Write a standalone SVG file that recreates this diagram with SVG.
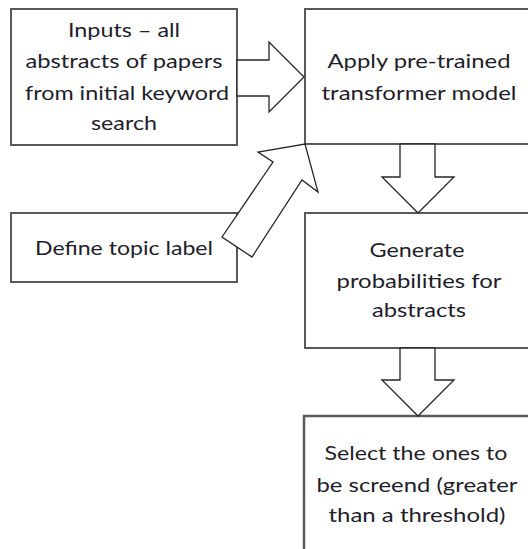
<svg xmlns="http://www.w3.org/2000/svg" width="528" height="549" viewBox="0 0 528 549">
<style>
.box{fill:#fff;stroke:#595959;stroke-width:2}
.arr{fill:#fff;stroke:#262626;stroke-width:1.3;stroke-linejoin:miter}
text{font-family:Lato,"Open Sans","Liberation Sans",sans-serif;font-size:19px;fill:#1e1e2a;text-anchor:middle}
</style>
<rect width="528" height="549" fill="#fff"/>
<g id="inputs">
<rect class="box" x="11" y="9" width="226" height="136"/>
<text x="124" y="37" textLength="112" lengthAdjust="spacingAndGlyphs">Inputs – all</text>
<text x="124" y="68" textLength="197" lengthAdjust="spacingAndGlyphs">abstracts of papers</text>
<text x="127" y="100" textLength="204" lengthAdjust="spacingAndGlyphs">from initial keyword</text>
<text x="124" y="130" textLength="66" lengthAdjust="spacingAndGlyphs">search</text>
</g>
<g id="apply">
<rect class="box" x="305" y="9" width="240" height="135"/>
<text x="419" y="68" textLength="183" lengthAdjust="spacingAndGlyphs">Apply pre-trained</text>
<text x="419" y="100" textLength="195" lengthAdjust="spacingAndGlyphs">transformer model</text>
</g>
<g id="topic">
<rect class="box" x="11" y="213" width="226" height="69"/>
<text x="124" y="255" textLength="178" lengthAdjust="spacingAndGlyphs">Define topic label</text>
</g>
<g id="generate">
<rect class="box" x="305" y="213" width="240" height="135"/>
<text x="417" y="257" textLength="95" lengthAdjust="spacingAndGlyphs">Generate</text>
<text x="419" y="288" textLength="165" lengthAdjust="spacingAndGlyphs">probabilities for</text>
<text x="419" y="317" textLength="94" lengthAdjust="spacingAndGlyphs">abstracts</text>
</g>
<g id="select">
<rect class="box" x="304" y="416" width="241" height="150" style="stroke-width:2.5"/>
<text x="416" y="460" textLength="183" lengthAdjust="spacingAndGlyphs">Select the ones to</text>
<text x="417" y="492" textLength="201" lengthAdjust="spacingAndGlyphs">be screend (greater</text>
<text x="417" y="522" textLength="177" lengthAdjust="spacingAndGlyphs">than a threshold)</text>
</g>
<g id="connectors">
<polygon class="arr" points="237,60 269,60 269,42 304,77 269,112 269,96 237,96"/>
<polygon class="arr" points="222,237 273,162 258,152 305,144 318,192 302,180 252,257"/>
<polygon class="arr" points="400,144 435,144 435,177 454,177 418,213 382,177 400,177"/>
<polygon class="arr" points="400,348 435,348 435,380 454,380 418,416 382,380 400,380"/>
</g>
</svg>
